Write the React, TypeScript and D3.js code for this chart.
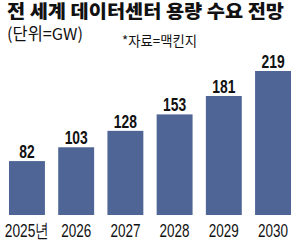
import { useMemo } from 'react';
import * as d3 from 'd3';

const years = ['2025년', '2026', '2027', '2028', '2029', '2030'];
const demand = [82, 103, 128, 153, 181, 219];

const title = '전 세계 데이터센터 용량 수요 전망';
const unitLabel = '(단위=GW)';
const sourceLabel = '*자료=맥킨지';

const W = 300;
const H = 240;
const BAR_COLOR = '#4e6596';
const NUM_FONT = '"Liberation Sans", Arial, sans-serif';
const KR_FONT = '"Noto Sans CJK KR", "Noto Sans", sans-serif';

// width the condensed labels take in the reference: digits narrow, hangul wider
const labelWidth = (s: string, digit: number) =>
  Array.from(s).reduce((w, ch) => w + (/[0-9]/.test(ch) ? digit : digit * 1.9), 0);

export default function App() {
  const x = useMemo(
    () => d3.scaleBand<string>().domain(years).range([9, 291]).paddingInner(0.27).paddingOuter(0),
    []
  );
  const y = useMemo(() => d3.scaleLinear().domain([0, 219]).range([215, 71]), []);

  return (
    <svg
      width={W}
      height={H}
      style={{ position: 'absolute', left: 0, top: 0, background: '#fff' }}
    >
      {/* title block */}
      <text
        x={7}
        y={18}
        fontFamily={KR_FONT}
        fontWeight={900}
        fontSize={18.5}
        fill="#111"
        textLength={277}
        lengthAdjust="spacingAndGlyphs"
      >
        {title}
      </text>
      <text
        x={7}
        y={40}
        fontFamily={KR_FONT}
        fontSize={16.5}
        fill="#111"
        textLength={76}
        lengthAdjust="spacingAndGlyphs"
      >
        {unitLabel}
      </text>
      <text
        x={122}
        y={46}
        fontFamily={KR_FONT}
        fontSize={13.5}
        fill="#111"
        textLength={75}
        lengthAdjust="spacingAndGlyphs"
      >
        {sourceLabel}
      </text>

      {/* bars with value labels */}
      {years.map((yr, i) => {
        const bx = x(yr) ?? 0;
        const top = y(demand[i]);
        const cx = bx + x.bandwidth() / 2;
        const v = String(demand[i]);
        return (
          <g key={yr}>
            <rect x={bx} y={top} width={x.bandwidth()} height={y(0) - top} fill={BAR_COLOR} />
            <text
              x={cx}
              y={top - 3}
              textAnchor="middle"
              fontFamily={NUM_FONT}
              fontWeight="bold"
              fontSize={18}
              fill="#111"
              textLength={labelWidth(v, 7.7)}
              lengthAdjust="spacingAndGlyphs"
            >
              {v}
            </text>
            <text
              x={cx}
              y={236.5}
              textAnchor="middle"
              fontFamily={NUM_FONT}
              fontSize={19}
              fill="#111"
              textLength={labelWidth(yr, 7.5)}
              lengthAdjust="spacingAndGlyphs"
            >
              {yr}
            </text>
          </g>
        );
      })}
    </svg>
  );
}
